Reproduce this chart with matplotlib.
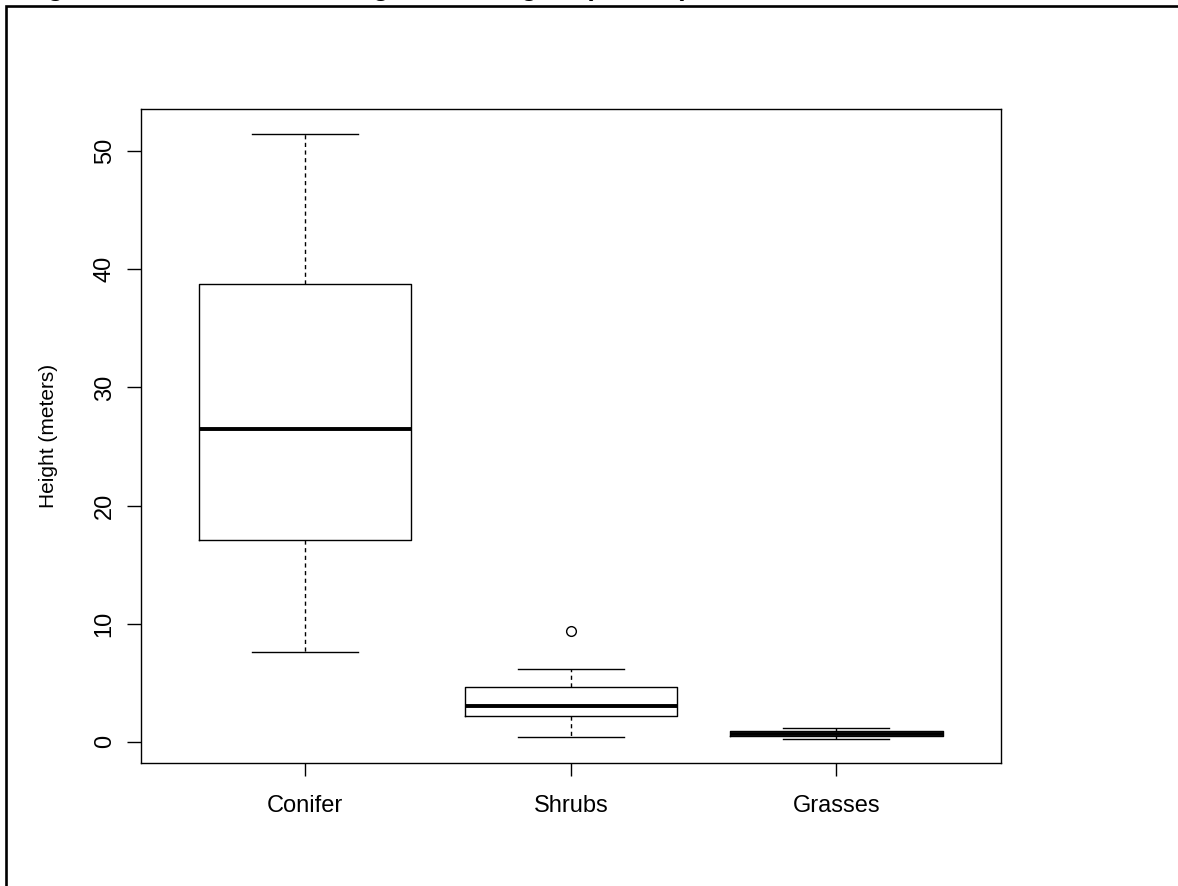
import matplotlib
matplotlib.use('Agg')
import matplotlib.pyplot as plt
import matplotlib.patches as patches

plt.rcParams['font.family'] = ['Liberation Sans', 'DejaVu Sans']

# Resumen de alturas por tipo de vegetacion (metros)
categorias = ['Conifer', 'Shrubs', 'Grasses']
bigote_inf = [7.6, 0.37, 0.23]
cuartil_1 = [17.1, 2.18, 0.46]
mediana = [26.5, 3.05, 0.65]
cuartil_3 = [38.8, 4.61, 0.91]
bigote_sup = [51.5, 6.16, 1.13]
atipicos = [[], [9.38], []]
marcas_y = [0, 10, 20, 30, 40, 50]

titulo = 'Figure 4. Field-measured vegetation heights (meters)'

# Estadisticos para bxp
stats = []
for i, cat in enumerate(categorias):
    stats.append({
        'label': cat,
        'whislo': bigote_inf[i],
        'q1': cuartil_1[i],
        'med': mediana[i],
        'q3': cuartil_3[i],
        'whishi': bigote_sup[i],
        'fliers': atipicos[i],
    })

fig = plt.figure(figsize=(11.78, 8.86), dpi=100)
ax = fig.add_axes([0.1194, 0.1385, 0.7303, 0.7381])

ax.bxp(stats, positions=[1, 2, 3], widths=0.8, showfliers=True,
       boxprops=dict(color='black', linewidth=1.0),
       medianprops=dict(color='black', linewidth=2.8),
       whiskerprops=dict(color='black', linewidth=1.0, linestyle=(0, (3, 2.5))),
       capprops=dict(color='black', linewidth=1.0),
       capwidths=0.4,
       flierprops=dict(marker='o', markerfacecolor='none', markeredgecolor='black',
                       markersize=7, markeredgewidth=1.0))

# Rango del eje como en R (4% extra a cada lado)
vmin = min(bigote_inf + [v for a in atipicos for v in a])
vmax = max(bigote_sup + [v for a in atipicos for v in a])
extra = (vmax - vmin) * 0.04
ax.set_ylim(vmin - extra, vmax + extra)
ax.set_xlim(0.38, 3.62)

ax.set_yticks(marcas_y)
ax.set_yticklabels([str(v) for v in marcas_y], rotation=90, va='center')
ax.set_xticks([1, 2, 3])
ax.set_xticklabels(categorias)
ax.tick_params(axis='y', length=10, width=1.0, pad=8, labelsize=17)
ax.tick_params(axis='x', length=9.5, width=1.0, pad=13, labelsize=17)
for s in ax.spines.values():
    s.set_linewidth(1.0)

ax.set_ylabel('Height (meters)', fontsize=15, labelpad=26)

# Marco exterior y titulo (cortado por el borde superior)
marco = patches.Rectangle((6 / 1178, -0.5), 2, 0.5 + 1 - 6 / 886,
                          transform=fig.transFigure, fill=False,
                          edgecolor='black', linewidth=1.9)
fig.patches.append(marco)
fig.text(23.5 / 1178, 1 + 4 / 886, titulo, fontsize=19, fontweight='bold',
         ha='left', va='baseline')

fig.savefig('out.png', dpi=100)
